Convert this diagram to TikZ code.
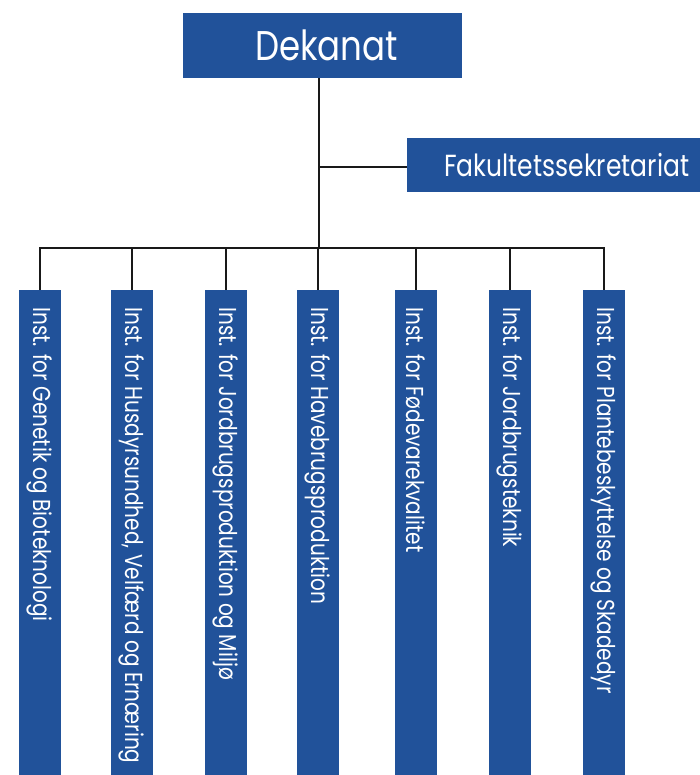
\documentclass[tikz,border=0pt]{standalone}
\usepackage{fontspec}
\newfontfamily\orgfont[FakeStretch=0.82]{Poppins}
\definecolor{kublue}{HTML}{21529A}
\begin{document}
\begin{tikzpicture}[x=1pt,y=-1pt,
  topbox/.style={fill=kublue,text=white,inner sep=0pt,font=\orgfont},
  inst/.style={fill=kublue,minimum width=42pt,minimum height=485pt,inner sep=0pt,anchor=north},
  insttext/.style={text=white,font=\orgfont\fontsize{24.5}{26}\selectfont,rotate=-90,anchor=west,inner sep=0pt},
  conn/.style={line width=1.8pt,black!90}]
\useasboundingbox (0,0) rectangle (700,775);
\node[topbox,minimum width=279pt,minimum height=65pt,font=\orgfont\fontsize{41.5}{44}\selectfont] (dek) at (322.5,45.5) {\makebox[279pt]{\hspace*{8pt}Dekanat}};
\node[topbox,minimum height=54pt,anchor=west,font=\orgfont\fontsize{30.5}{32}\selectfont,text width=293pt,align=left] (fak) at (407,165) {\hspace*{37pt}Fakultetssekretariat};
\coordinate (j) at (319,167);
\coordinate (bar) at (319,248);
\foreach \i/\x/\t in {1/40/{Inst. for Genetik og Bioteknologi},
  2/132/{Inst. for Husdyrsundhed, Velfærd og Ernæring},
  3/226/{Inst. for Jordbrugsproduktion og Miljø},
  4/318/{Inst. for Havebrugsproduktion},
  5/416/{Inst. for Fødevarekvalitet},
  6/510/{Inst. for Jordbrugsteknik},
  7/604/{Inst. for Plantebeskyttelse og Skadedyr}}{
  \node[inst] (b\i) at (\x,290) {};
  \node[insttext] (t\i) at (\x,307) {\t};
  \coordinate (c\i) at (\x,248);
}
\draw[conn] (dek.south -| j) -- (bar);
\draw[conn] (j) -- (fak.west |- j);
\draw[conn] (b1.north) -- (c1) -- (c7) -- (b7.north);
\foreach \i in {2,...,6}{\draw[conn] (c\i) -- (b\i.north);}
\end{tikzpicture}
\end{document}
